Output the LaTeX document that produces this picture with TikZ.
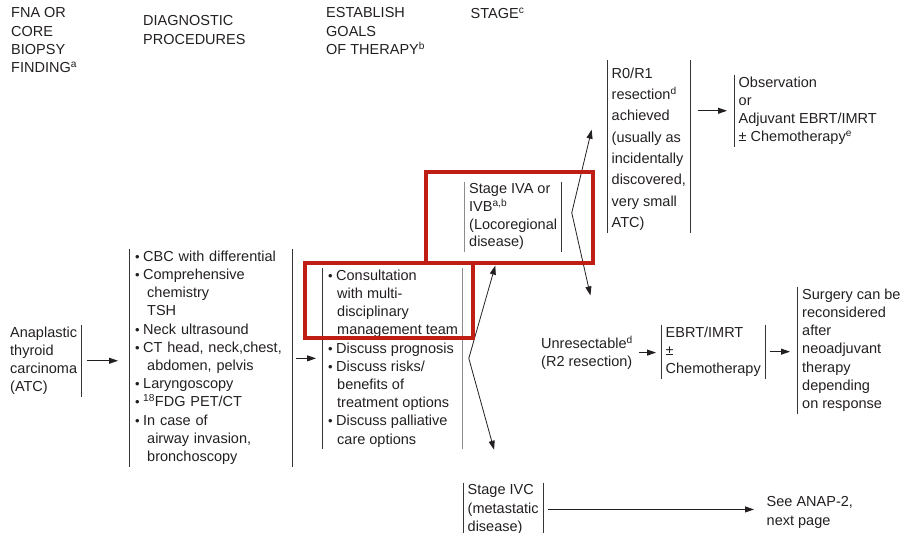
\documentclass[tikz,border=0pt]{standalone}
\usepackage{fontspec}
\setsansfont{Liberation Sans}
\usepackage{tikz}
\usetikzlibrary{arrows.meta}
\usetikzlibrary{calc}

\definecolor{ink}{RGB}{35,31,32}
\definecolor{redline}{RGB}{190,30,20}
\newcommand{\bul}{\hspace*{1.5pt}\makebox[8pt][l]{\fontsize{13}{13}\selectfont •}}
\newcommand{\ind}{\hspace*{13.5pt}}
\newcommand{\sub}{\hspace*{10.5pt}}

\begin{document}
\begin{tikzpicture}[x=1pt,y=-1pt,font=\sffamily,
  every node/.style={font=\sffamily\fontsize{14.5}{18.2}\selectfont,text=ink},
  box/.style={anchor=north west,align=left,inner xsep=4.5pt,inner ysep=2pt},
  bar/.style={draw=ink!90,line width=0.8pt},
  faint/.style={draw=black!45,line width=0.8pt},
  flow/.style={-{Triangle[length=9pt,width=6pt]},draw=ink,line width=0.8pt},
  hilite/.style={draw=redline,line width=4pt}]

    \useasboundingbox (0,0) rectangle (900,533);

    \node[box] (fna) at (6.5,5.5) {FNA OR\\CORE\\BIOPSY\\FINDING\textsuperscript{a}};
    \node[box] (proc) at (138.5,13.5) {DIAGNOSTIC\\PROCEDURES};
    \node[box] (goalhead) at (321.5,5.5) {ESTABLISH\\GOALS\\OF THERAPY\textsuperscript{b}};
    \node[box] (stagehead) at (466,5.5) {STAGE\textsuperscript{c}};

    \node[box] (atc) at (5.5,324.5) {Anaplastic\\thyroid\\carcinoma\\(ATC)};
    \node[box,text width=154pt] (diag) at (129,248.5) {\bul CBC with differential\\
      \bul Comprehensive\\ \ind chemistry\\ \ind TSH\\
      \bul Neck ultrasound\\
      \bul CT head, neck,chest,\\ \ind abdomen, pelvis\\
      \bul Laryngoscopy\\
      \bul \textsuperscript{18}FDG PET/CT\\
      \bul In case of\\ \ind airway invasion,\\ \ind bronchoscopy};
    \node[box] (goals) at (322,267.5) {\bul Consultation\\
      \sub with multi-\\ \sub disciplinary\\ \sub management team\\
      \bul Discuss prognosis\\
      \bul Discuss risks/\\ \sub benefits of\\ \sub treatment options\\
      \bul Discuss palliative\\ \sub care options};
    \node[box,font=\sffamily\fontsize{14.5}{17.7}\selectfont] (iva) at (464.5,181.5)
      {Stage IVA or\\IVB\textsuperscript{a,b}\\(Locoregional\\disease)};
    \node[box,font=\sffamily\fontsize{14.5}{21.3}\selectfont] (r0) at (607,65.5)
      {R0/R1\\resection\textsuperscript{d}\\achieved\\(usually as\\incidentally\\discovered,\\very small\\ATC)};
    \node[box] (obs) at (734,74.5) {Observation\\or\\Adjuvant EBRT/IMRT\\± Chemotherapy\textsuperscript{e}};
    \node[box] (unres) at (536.5,333.5) {Unresectable\textsuperscript{d}\\(R2 resection)};
    \node[box] (ebrt) at (661,324.5) {EBRT/IMRT\\±\\Chemotherapy};
    \node[box] (surg) at (797.5,286.5) {Surgery can be\\reconsidered\\after\\neoadjuvant\\therapy\\depending\\on response};
    \node[box] (ivc) at (463,482.5) {Stage IVC\\(metastatic\\disease)};
    \node[box,font=\sffamily\fontsize{14.5}{19}\selectfont] (anap) at (762,494.5) {See ANAP-2,\\next page};

    \draw[bar] (atc.north east) -- (atc.south east);
    \draw[bar] (diag.north west) -- (diag.south west) (diag.north east) -- (diag.south east);
    \draw[bar] (goals.north west) -- (goals.south west);
    \draw[faint] (goals.north east) -- (goals.south east);
    \draw[faint] (iva.north west) -- (iva.south west);
    \draw[bar] (iva.north east) -- (iva.south east);
    \draw[bar] ([yshift=6pt]r0.north west) -- (r0.south west) ([yshift=6pt]r0.north east) -- (r0.south east);
    \draw[bar] (obs.north west) -- (obs.south west);
    \draw[bar] (ebrt.north west) -- (ebrt.south west) (ebrt.north east) -- (ebrt.south east);
    \draw[bar] (surg.north west) -- (surg.south west);
    \draw[bar] (ivc.north west) -- (ivc.south west) (ivc.north east) -- (ivc.south east);

    \coordinate (gsplit) at ([xshift=6pt]goals.east);
    \coordinate (ivsplit) at ([xshift=10pt,yshift=4pt]iva.east);

    \draw[flow,shorten <=5pt,shorten >=11pt] (atc.east) -- (atc.east -| diag.west);
    \draw[flow,shorten <=4pt,shorten >=6pt] (goals.west -| diag.east) -- (goals.west);
    \draw[flow,shorten >=14pt] (gsplit) -- ([xshift=-14pt]iva.south);
    \draw[flow,shorten >=34pt] (gsplit) -- (ivc.north);
    \draw[flow,shorten >=66pt] (ivsplit) -- (r0.north west);
    \draw[flow,shorten >=39pt] (ivsplit) -- ([xshift=12pt]unres.north);
    \draw[flow,shorten <=7pt,shorten >=7pt] (obs.west -| r0.east) -- (obs.west);
    \draw[flow,shorten <=2pt,shorten >=5pt] (unres.east) -- (unres.east -| ebrt.west);
    \draw[flow,shorten <=4pt,shorten >=7.5pt] (ebrt.east) -- (ebrt.east -| surg.west);
    \draw[flow,shorten <=5pt,shorten >=8pt] (ivc.east) -- (ivc.east -| anap.west);

    \draw[hilite] (305,263) rectangle (473,338);
    \draw[hilite] (426,172) rectangle (593,263);
\end{tikzpicture}
\end{document}
